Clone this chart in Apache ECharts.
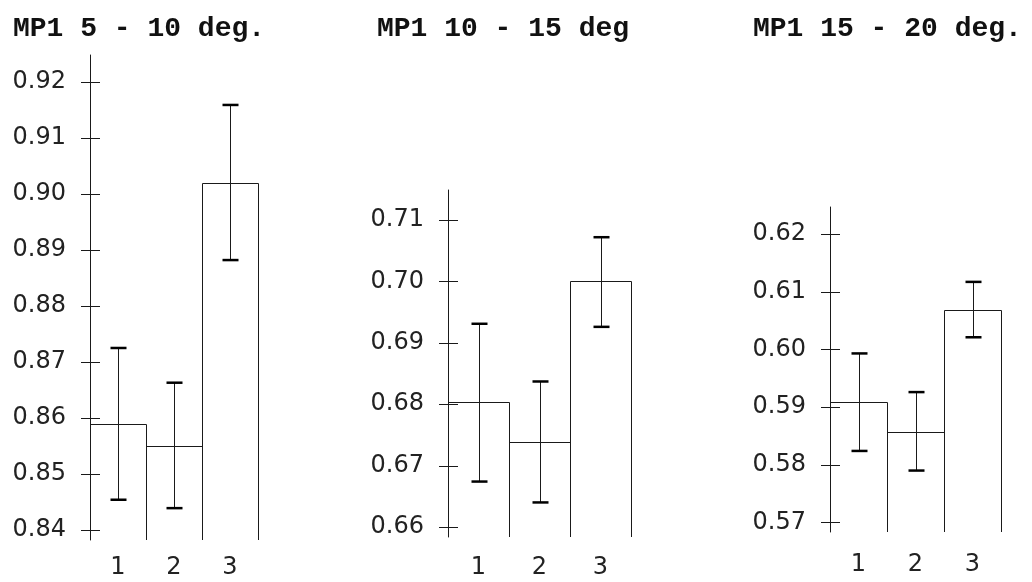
<!DOCTYPE html>
<html>
<head>
<meta charset="utf-8">
<script src="https://cdn.jsdelivr.net/npm/echarts@6/dist/echarts.min.js"></script>
<style>
  html, body { margin: 0; padding: 0; background: #fff; }
  #chart { width: 1032px; height: 582px; }
</style>
</head>
<body>
<div id="chart"></div>
<script>
// groups on the x axis
var categories = ['1', '2', '3']

// MP1 5 - 10 deg.
var means1 = [0.859, 0.855, 0.902]
var low1 = [0.8454, 0.8439, 0.8882]
var high1 = [0.8725, 0.8663, 0.9159]
var ticks1 = [0.84, 0.85, 0.86, 0.87, 0.88, 0.89, 0.90, 0.91, 0.92]

// MP1 10 - 15 deg
var means2 = [0.6803, 0.6739, 0.7000]
var low2 = [0.6674, 0.6640, 0.6926]
var high2 = [0.6931, 0.6837, 0.7072]
var ticks2 = [0.66, 0.67, 0.68, 0.69, 0.70, 0.71]

// MP1 15 - 20 deg.
var means3 = [0.5909, 0.5857, 0.6068]
var low3 = [0.5824, 0.5790, 0.6021]
var high3 = [0.5993, 0.5926, 0.6117]
var ticks3 = [0.57, 0.58, 0.59, 0.60, 0.61, 0.62]

var titles = ['MP1 5 - 10 deg.', 'MP1 10 - 15 deg', 'MP1 15 - 20 deg.']

var panels = [
  { title: titles[0], means: means1, low: low1, high: high1, ticks: ticks1,
    min: 0.83821, max: 0.92482,
    grid: { left: 90, top: 55, width: 168, height: 485 }, titleLeft: 8, xMargin: 16 },
  { title: titles[1], means: means2, low: low2, high: high2, ticks: ticks2,
    min: 0.65837, max: 0.71489,
    grid: { left: 448, top: 190, width: 183, height: 347 }, titleLeft: 372, xMargin: 19 },
  { title: titles[2], means: means3, low: low3, high: high3, ticks: ticks3,
    min: 0.56835, max: 0.62468,
    grid: { left: 830, top: 207, width: 171, height: 325 }, titleLeft: 748, xMargin: 21 },
]

var ink = '#1a1a1a'
var labelFont = {
  fontFamily: 'DejaVu Sans',
  fontSize: 24,
  fontWeight: 'normal',
  color: '#222',
}

function crisp(v) {
  return Math.round(v) + 0.5
}

// open bar: left side, top, right side, no bottom edge
function barItem(params, api) {
  var x = api.value(0)
  var top = api.coord([x, api.value(1)])
  var w = api.size([1, 0])[0]
  var base = params.coordSys.y + params.coordSys.height
  var x0 = crisp(top[0] - w / 2)
  var x1 = crisp(top[0] + w / 2)
  var y = crisp(top[1])
  return {
    type: 'polyline',
    shape: { points: [[x0, base], [x0, y], [x1, y], [x1, base]] },
    style: { fill: null, stroke: ink, lineWidth: 1 },
  }
}

function errorItem(params, api) {
  var x = api.value(0)
  var lo = api.coord([x, api.value(1)])
  var hi = api.coord([x, api.value(2)])
  var cx = crisp(hi[0])
  var w = 8
  return {
    type: 'group',
    children: [
      { type: 'line', shape: { x1: cx, y1: hi[1], x2: cx, y2: lo[1] },
        style: { stroke: ink, lineWidth: 1 } },
      { type: 'line', shape: { x1: cx - w, y1: hi[1], x2: cx + w, y2: hi[1] },
        style: { stroke: '#000', lineWidth: 2.5 } },
      { type: 'line', shape: { x1: cx - w, y1: lo[1], x2: cx + w, y2: lo[1] },
        style: { stroke: '#000', lineWidth: 2.5 } },
    ],
  }
}

// tick marks crossing the y axis line
function tickItem(params, api) {
  var y = crisp(api.coord([0, api.value(1)])[1])
  var ax = params.coordSys.x
  return {
    type: 'line',
    shape: { x1: ax - 9, y1: y, x2: ax + 10, y2: y },
    style: { stroke: ink, lineWidth: 1 },
  }
}

var option = {
  backgroundColor: '#fff',
  animation: false,
  title: [],
  grid: [],
  xAxis: [],
  yAxis: [],
  series: [],
}

panels.forEach(function (p, i) {
  option.title.push({
    text: p.title,
    left: p.titleLeft,
    top: 10,
    textStyle: {
      fontFamily: 'Liberation Mono',
      fontWeight: 'bold',
      fontSize: 28,
      color: '#111',
    },
  })
  option.grid.push(p.grid)
  option.xAxis.push({
    type: 'category',
    gridIndex: i,
    data: categories,
    boundaryGap: true,
    axisLine: { show: false },
    axisTick: { show: false },
    axisLabel: Object.assign({ margin: p.xMargin }, labelFont),
    splitLine: { show: false },
  })
  option.yAxis.push({
    type: 'value',
    gridIndex: i,
    position: 'left',
    min: p.min,
    max: p.max,
    axisLine: { show: true, lineStyle: { color: ink, width: 1 } },
    axisTick: { show: false },
    axisLabel: Object.assign({
      margin: 24,
      customValues: p.ticks,
      formatter: function (v) { return v.toFixed(2) },
    }, labelFont),
    splitLine: { show: false },
  })
  option.series.push({
    type: 'custom',
    xAxisIndex: i,
    yAxisIndex: i,
    renderItem: barItem,
    data: p.means.map(function (m, k) { return [k, m] }),
    silent: true,
  })
  option.series.push({
    type: 'custom',
    xAxisIndex: i,
    yAxisIndex: i,
    z: 5,
    renderItem: errorItem,
    data: p.means.map(function (m, k) { return [k, p.low[k], p.high[k]] }),
    silent: true,
  })
  option.series.push({
    type: 'custom',
    xAxisIndex: i,
    yAxisIndex: i,
    z: 4,
    renderItem: tickItem,
    data: p.ticks.map(function (t) { return [0, t] }),
    silent: true,
  })
})

var chart = echarts.init(document.getElementById('chart'))
chart.setOption(option)
</script>
</body>
</html>
